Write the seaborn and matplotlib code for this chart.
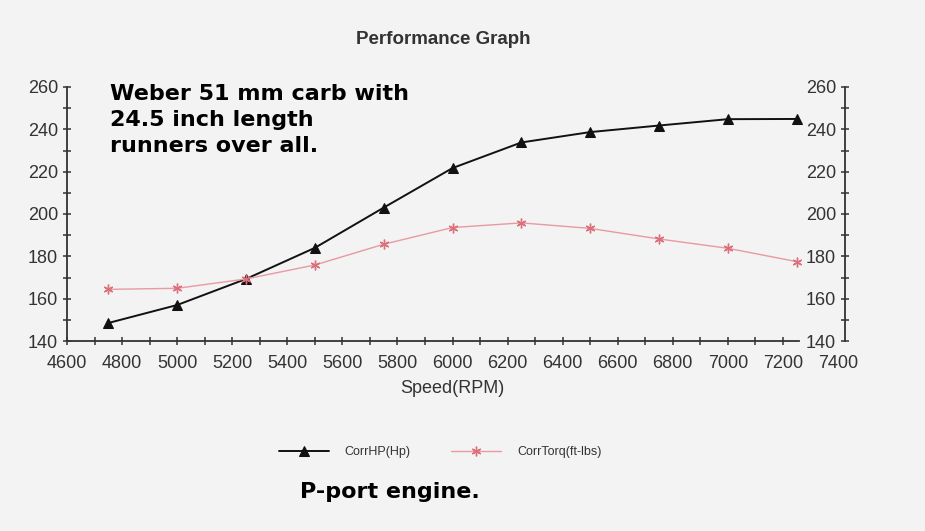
import seaborn as sns
import matplotlib.pyplot as plt
import matplotlib.ticker as mticker
import pandas as pd

# Values
rpm = [4750, 5000, 5250, 5500, 5750, 6000, 6250, 6500, 6750, 7000, 7250]
hp = [148.5, 157.0, 169.3, 184.0, 203.0, 221.7, 233.8, 238.7, 241.8, 244.8, 244.9]
torque = [164.4, 164.9, 169.3, 175.9, 185.7, 193.6, 195.8, 193.2, 188.2, 183.8, 177.5]

hp_name = 'CorrHP(Hp)'
tq_name = 'CorrTorq(ft-lbs)'

x_ticks = list(range(4600, 7401, 200))
x_minor = list(range(4700, 7101, 200))
y_ticks = list(range(140, 261, 20))

df = pd.DataFrame({'rpm': rpm, hp_name: hp, tq_name: torque})

sns.set_style("white")
plt.rcParams['font.family'] = ['Liberation Sans', 'DejaVu Sans']

bg = '#f3f3f3'
axis_col = '#333333'
fig = plt.figure(figsize=(9.25, 5.31), dpi=100, facecolor=bg)

# main plot area (pixel layout of the original: 67..838 x, 87..341 y)
ax = fig.add_axes([67 / 925, 190 / 531, 771 / 925, 254 / 531])
ax.set_facecolor('none')

sns.lineplot(data=df, x='rpm', y=hp_name, color='#111111', marker='^',
             markersize=7, markeredgecolor='#111111', linewidth=1.4,
             label=hp_name, ax=ax)
sns.lineplot(data=df, x='rpm', y=tq_name, color='#e79aa2', marker=(6, 2, 0),
             markersize=7, markeredgecolor='#d9707a', markeredgewidth=1.0,
             linewidth=1.0, label=tq_name, ax=ax)

ax.set_xlim(4600, 7400)
ax.set_ylim(140, 260)
ax.set_xticks(x_ticks)
ax.set_yticks(y_ticks)
ax.xaxis.set_minor_locator(mticker.FixedLocator(x_minor))
ax.yaxis.set_minor_locator(mticker.MultipleLocator(10))
ax.tick_params(axis='both', which='both', direction='inout', length=6,
               width=1.1, color=axis_col, labelsize=13, labelcolor='#333333',
               bottom=True, left=True)
ax.tick_params(axis='x', which='major', pad=7)
ax.xaxis.get_major_ticks()[-1].tick1line.set_visible(False)

for side in ['top', 'right']:
    ax.spines[side].set_visible(False)
for side in ['left', 'bottom']:
    ax.spines[side].set_color(axis_col)
    ax.spines[side].set_linewidth(1.3)
ax.spines['bottom'].set_bounds(4600, 7260)

ax.set_xlabel('Speed(RPM)', fontsize=13, color='#333333', labelpad=6)
ax.set_ylabel('')

# right-hand value axis, drawn as its own thin axes
rax = fig.add_axes([845 / 925, 190 / 531, 0.0001, 254 / 531])
rax.set_facecolor('none')
rax.set_ylim(140, 260)
rax.set_yticks(y_ticks)
rax.yaxis.set_minor_locator(mticker.MultipleLocator(10))
rax.set_xticks([])
rax.tick_params(axis='y', which='both', direction='inout', length=6,
                width=1.1, color=axis_col, labelsize=13, labelcolor='#333333',
                left=True)
for side in ['top', 'right', 'bottom']:
    rax.spines[side].set_visible(False)
rax.spines['left'].set_color(axis_col)
rax.spines['left'].set_linewidth(1.3)

# legend below the plot
handles, labels = ax.get_legend_handles_labels()
ax.legend(handles, labels, ncol=2, frameon=False, fontsize=9,
          handlelength=4, columnspacing=3.2, handletextpad=1.3,
          loc='center', bbox_to_anchor=(440 / 925, 79 / 531),
          bbox_transform=fig.transFigure, labelcolor='#333333')

fig.text(443 / 925, 1 - 39 / 531, 'Performance Graph', ha='center', va='center',
         fontsize=13.5, fontweight='bold', color='#333333')

fig.text(110 / 925, 1 - 84 / 531,
         'Weber 51 mm carb with\n24.5 inch length\nrunners over all.',
         ha='left', va='top', fontsize=16, fontweight='bold',
         family='DejaVu Sans', linespacing=1.38, color='black')

fig.text(300 / 925, 1 - 492 / 531, 'P-port engine.', ha='left', va='center',
         fontsize=16, fontweight='bold', family='DejaVu Sans', color='black')

plt.savefig('out.png', dpi=100, facecolor=bg)
